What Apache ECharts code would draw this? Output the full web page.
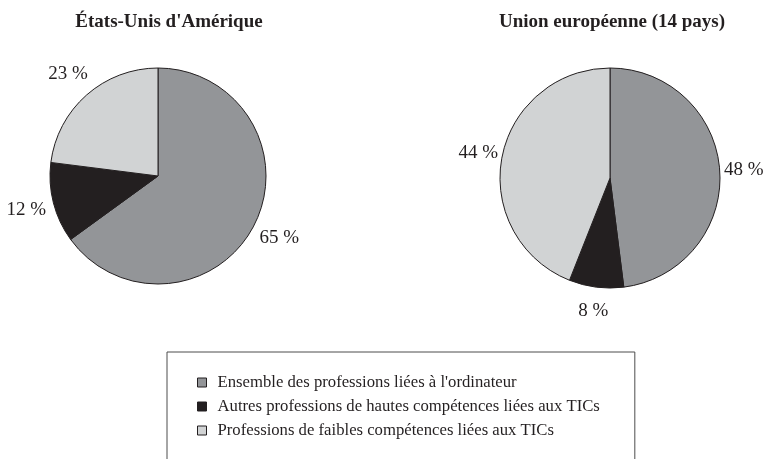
<!DOCTYPE html>
<html>
<head>
<meta charset="utf-8">
<script src="https://cdn.jsdelivr.net/npm/echarts@6/dist/echarts.min.js"></script>
<style>
  html, body { margin: 0; padding: 0; background: #fff; }
  #chart { width: 771px; height: 459px; }
</style>
</head>
<body>
<div id="chart"></div>
<script>
// categories (legend order)
const categories = [
    'Ensemble des professions liées à l\'ordinateur',
    'Autres professions de hautes compétences liées aux TICs',
    'Professions de faibles compétences liées aux TICs'
]
// shares in %
const usaShares = [65, 12, 23]
const euShares = [48, 8, 44]
const pieTitles = ['États-Unis d\'Amérique', 'Union européenne (14 pays)']

const sliceColors = ['#939598', '#231f20', '#d1d3d4']
const ink = '#231f20'
const serif = '"Liberation Serif", "DejaVu Serif", serif'

function pieSeries(name, values, center, radius, labelLen) {
    return {
        name: name,
        type: 'pie',
        center: center,
        radius: radius,
        startAngle: 90,
        clockwise: true,
        avoidLabelOverlap: false,
        data: values.map((v, i) => ({
            name: categories[i],
            value: v,
            itemStyle: { color: sliceColors[i] }
        })),
        itemStyle: { borderColor: ink, borderWidth: 1 },
        label: {
            show: true,
            position: 'outside',
            formatter: '{c} %',
            fontFamily: serif,
            fontSize: 19,
            color: ink,
            distanceToLabelLine: 0
        },
        labelLine: { show: false, length: labelLen, length2: 0 },
        labelLayout: { align: 'center' },
        emphasis: { disabled: true }
    }
}

let option = {
    animation: false,
    backgroundColor: '#fff',
    graphic: [
        {
            type: 'text', x: 169, y: 22,
            style: { text: pieTitles[0], font: 'bold 19px ' + serif, fill: ink, align: 'center', verticalAlign: 'middle' }
        },
        {
            type: 'text', x: 612, y: 22,
            style: { text: pieTitles[1], font: 'bold 19px ' + serif, fill: ink, align: 'center', verticalAlign: 'middle' }
        }
    ],
    legend: {
        data: categories,
        orient: 'vertical',
        left: 167,
        top: 352,
        height: 200,
        padding: [22, 35, 60, 30],
        itemGap: 7,
        itemWidth: 9,
        itemHeight: 9,
        icon: 'rect',
        borderColor: '#4d4d4d',
        borderWidth: 1,
        selectedMode: false,
        itemStyle: { borderColor: ink, borderWidth: 1 },
        textStyle: {
            fontFamily: serif,
            fontSize: 16.7,
            lineHeight: 17,
            color: ink,
            padding: [0, 0, 0, 6]
        }
    },
    series: [
        pieSeries(pieTitles[0], usaShares, [158, 176], 108, 28),
        pieSeries(pieTitles[1], euShares, [610, 178], 110, 24)
    ]
}

let chart = echarts.init(document.getElementById('chart'))
chart.setOption(option)
</script>
</body>
</html>
